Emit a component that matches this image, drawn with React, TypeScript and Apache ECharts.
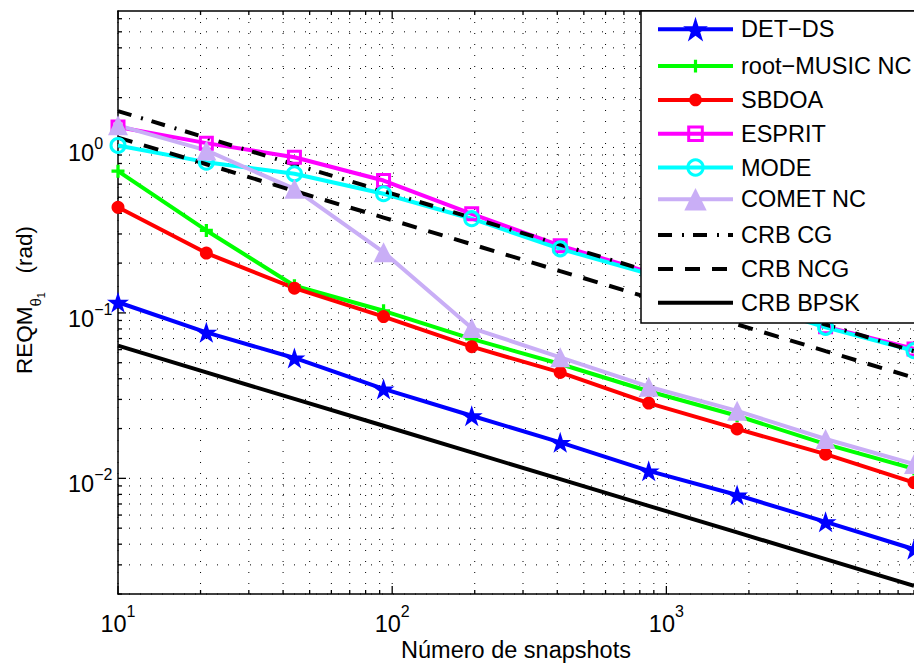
import { useEffect, useRef } from 'react';
import * as echarts from 'echarts';

// Number of snapshots (log-spaced from 10 to 8000)
const snapshots = [10, 21, 44, 93, 195, 410, 862, 1811, 3807, 8000];

// RMSE of theta_1 (rad) for each estimator
const detDs = [0.116, 0.0763, 0.0534, 0.0347, 0.0239, 0.0165, 0.0111, 0.00793, 0.00546, 0.00373];
const rootMusicNc = [0.719, 0.315, 0.146, 0.103, 0.0696, 0.0491, 0.0336, 0.0239, 0.0161, 0.0114];
const sbdoa = [0.435, 0.23, 0.141, 0.095, 0.0625, 0.0437, 0.0285, 0.0199, 0.014, 0.00944];
const esprit = [1.33, 1.062, 0.873, 0.631, 0.397, 0.255, 0.176, 0.1216, 0.0826, 0.0606];
const mode = [1.028, 0.815, 0.693, 0.525, 0.371, 0.244, 0.172, 0.119, 0.0818, 0.0591];
const cometNc = [1.36, 0.96, 0.562, 0.233, 0.081, 0.0539, 0.0358, 0.0256, 0.0173, 0.0122];

// Cramér-Rao bounds
const crbCg = [1.66, 1.145, 0.789, 0.545, 0.376, 0.259, 0.1786, 0.1233, 0.0851, 0.0587];
const crbNcg = [1.148, 0.792, 0.546, 0.377, 0.26, 0.179, 0.1236, 0.0853, 0.0588, 0.0406];
const crbBpsk = [0.0634, 0.0437, 0.0302, 0.0208, 0.01435, 0.00989, 0.00682, 0.00471, 0.00325, 0.00224];

// Axis ranges and labelled decades
const X_MIN = 10;
const X_MAX = 8000;
const Y_MIN = 0.002;
const Y_MAX = 6.68;
const xExponents = [1, 2, 3];
const yExponents = [-2, -1, 0];
const gridMultipliers = [1, 2, 3, 4, 5, 6, 7, 8, 9];

const FONT = '"Liberation Sans", Arial, Helvetica, sans-serif';
const STAR =
  'path://M0,-100L22.45,-30.9L95.11,-30.9L36.33,11.8L58.78,80.9L0,38.2L-58.78,80.9L-36.33,11.8L-95.11,-30.9L-22.45,-30.9Z';
const PLUS = 'path://M-1.5,-6H1.5V-1.5H6V1.5H1.5V6H-1.5V1.5H-6V-1.5H-1.5Z';
const LAVENDER = '#C9AEF6';

const isDecade = (v: number) => {
  const l = Math.log10(v);
  return Math.abs(l - Math.round(l)) < 1e-9;
};

const expText = (e: number) => (e < 0 ? '\u2212' + -e : String(e));

// Decade grid positions (1..9 x 10^e) inside each axis range
const xGridValues: number[] = [];
for (let e = 1; e <= 3; e++) {
  for (const m of gridMultipliers) {
    const v = m * Math.pow(10, e);
    if (v >= X_MIN && v <= X_MAX * 1.0000001) xGridValues.push(v);
  }
}
const yGridValues: number[] = [];
for (let e = -3; e <= 0; e++) {
  for (const m of gridMultipliers) {
    const v = m * Math.pow(10, e);
    if (v >= Y_MIN * 0.9999999 && v <= Y_MAX) yGridValues.push(v);
  }
}

const dotted = { stroke: '#000', lineWidth: 1, lineDash: [1, 10] };
const tickStyle = { stroke: '#000', lineWidth: 1.3 };

const verticalGrid = {
  type: 'custom',
  name: 'xgrid',
  silent: true,
  z: 1,
  data: xGridValues.map((v) => [v, 1]),
  encode: { x: 0, y: 1 },
  renderItem: (params: any, api: any) => {
    const v = api.value(0);
    const px = api.coord([v, 1])[0];
    const cs = params.coordSys;
    const len = isDecade(v) ? 8 : 4;
    const top = cs.y;
    const bottom = cs.y + cs.height;
    return {
      type: 'group',
      children: [
        { type: 'line', shape: { x1: px, y1: top, x2: px, y2: bottom }, style: dotted },
        { type: 'line', shape: { x1: px, y1: bottom, x2: px, y2: bottom - len }, style: tickStyle },
        { type: 'line', shape: { x1: px, y1: top, x2: px, y2: top + len }, style: tickStyle },
      ],
    };
  },
};

const horizontalGrid = {
  type: 'custom',
  name: 'ygrid',
  silent: true,
  z: 1,
  data: yGridValues.map((v) => [100, v]),
  encode: { x: 0, y: 1 },
  renderItem: (params: any, api: any) => {
    const v = api.value(1);
    const py = api.coord([100, v])[1];
    const cs = params.coordSys;
    const len = isDecade(v) ? 8 : 4;
    const left = cs.x;
    const right = cs.x + cs.width;
    return {
      type: 'group',
      children: [
        { type: 'line', shape: { x1: left, y1: py, x2: right, y2: py }, style: dotted },
        { type: 'line', shape: { x1: left, y1: py, x2: left + len, y2: py }, style: tickStyle },
      ],
    };
  },
};

const lineSeries = (
  name: string,
  values: number[],
  color: string,
  symbol: string,
  symbolSize: number | number[],
  opts: { hollow?: boolean; dash?: number[] } = {}
) => ({
  name,
  type: 'line',
  data: snapshots.map((x, i) => [x, values[i]]),
  symbol,
  symbolSize,
  showSymbol: symbol !== 'none',
  clip: true,
  z: 2,
  lineStyle: { color, width: 4, type: opts.dash ? opts.dash : 'solid', cap: 'butt' },
  itemStyle: opts.hollow
    ? { color: 'rgba(255,255,255,0)', borderColor: color, borderWidth: 3 }
    : { color, borderWidth: 0 },
  emphasis: { disabled: true },
});

const series = [
  verticalGrid,
  horizontalGrid,
  lineSeries('DET\u2212DS', detDs, '#0000FF', STAR, [22, 21]),
  lineSeries('root\u2212MUSIC NC', rootMusicNc, '#00FF00', PLUS, 13),
  lineSeries('SBDOA', sbdoa, '#FF0000', 'circle', 13),
  lineSeries('ESPRIT', esprit, '#FF00FF', 'rect', 12, { hollow: true }),
  lineSeries('MODE', mode, '#00FFFF', 'circle', 14, { hollow: true }),
  lineSeries('COMET NC', cometNc, LAVENDER, 'triangle', 20),
  lineSeries('CRB CG', crbCg, '#000000', 'none', 0, { dash: [14, 10, 2, 9] }),
  lineSeries('CRB NCG', crbNcg, '#000000', 'none', 0, { dash: [15, 12] }),
  lineSeries('CRB BPSK', crbBpsk, '#000000', 'none', 0),
];

// Legend rows: one legend component per row so each marker keeps its own size
const legendRows = [
  { name: 'DET\u2212DS', itemHeight: 31 },
  { name: 'root\u2212MUSIC NC', itemHeight: 16 },
  { name: 'SBDOA', itemHeight: 16 },
  { name: 'ESPRIT', itemHeight: 17, border: 3 },
  { name: 'MODE', itemHeight: 19, border: 3 },
  { name: 'COMET NC', itemHeight: 28 },
  { name: 'CRB CG', itemHeight: 20, noMarker: true },
  { name: 'CRB NCG', itemHeight: 20, noMarker: true },
  { name: 'CRB BPSK', itemHeight: 20, noMarker: true },
];
const LEGEND_FIRST_ROW = 32.3;
const LEGEND_ROW_STEP = 33.8;
const LEGEND_TEXT_HEIGHT = 24;

const legends = legendRows.map((row, i) => ({
  data: [row.name],
  left: 656,
  top: LEGEND_FIRST_ROW + i * LEGEND_ROW_STEP - Math.max(row.itemHeight, LEGEND_TEXT_HEIGHT) / 2,
  orient: 'vertical',
  padding: 0,
  itemWidth: 75,
  itemHeight: row.itemHeight,
  selectedMode: false,
  z: 10,
  lineStyle: { width: 4 },
  itemStyle: row.noMarker
    ? { opacity: 0 }
    : row.border
    ? { borderWidth: row.border }
    : {},
  textStyle: {
    fontFamily: FONT,
    fontSize: 23.5,
    lineHeight: LEGEND_TEXT_HEIGHT,
    color: '#000',
    padding: [0, 0, 0, 3],
  },
}));

const tickLabelRich = (bPad: number[]) => ({
  b: {
    fontFamily: FONT,
    fontSize: 23.5,
    lineHeight: 23.5,
    color: '#000',
    padding: bPad,
    verticalAlign: 'top',
  },
  s: {
    fontFamily: FONT,
    fontSize: 16,
    lineHeight: 16,
    color: '#000',
    verticalAlign: 'top',
  },
});

const decadeLabel = (allowed: number[]) => (v: number) => {
  if (!isDecade(v)) return '';
  const e = Math.round(Math.log10(v));
  if (!allowed.includes(e)) return '';
  return `{b|10}{s|${expText(e)}}`;
};

const axisLineStyle = { show: true, lineStyle: { color: '#000', width: 1.5 } };

const option = {
  animation: false,
  backgroundColor: '#FFFFFF',
  textStyle: { fontFamily: FONT },
  grid: {
    left: 118,
    top: 11,
    right: 0,
    bottom: 71,
    containLabel: false,
    outerBoundsMode: 'none',
  },
  xAxis: [
    {
      type: 'log',
      logBase: 10,
      min: X_MIN,
      max: X_MAX,
      position: 'bottom',
      axisLine: axisLineStyle,
      axisTick: { show: false },
      splitLine: { show: false },
      minorTick: { show: false },
      minorSplitLine: { show: false },
      axisLabel: {
        show: true,
        margin: 9,
        align: 'center',
        formatter: decadeLabel(xExponents),
        rich: tickLabelRich([9, 0, 0, 0]),
        showMinLabel: true,
        showMaxLabel: true,
        hideOverlap: false,
      },
      name: 'Número de snapshots',
      nameLocation: 'middle',
      nameGap: 43.5,
      nameMoveOverlap: false,
      nameTextStyle: { fontFamily: FONT, fontSize: 23.5, color: '#000', verticalAlign: 'top' },
    },
    {
      type: 'log',
      logBase: 10,
      min: X_MIN,
      max: X_MAX,
      position: 'top',
      axisLine: axisLineStyle,
      axisTick: { show: false },
      axisLabel: { show: false },
      splitLine: { show: false },
    },
  ],
  yAxis: [
    {
      type: 'log',
      logBase: 10,
      min: Y_MIN,
      max: Y_MAX,
      position: 'left',
      axisLine: axisLineStyle,
      axisTick: { show: false },
      splitLine: { show: false },
      minorTick: { show: false },
      minorSplitLine: { show: false },
      axisLabel: {
        show: true,
        margin: 50,
        align: 'left',
        formatter: decadeLabel(yExponents),
        rich: tickLabelRich([5.5, 0, 4.5, 0]),
        showMinLabel: true,
        showMaxLabel: true,
        hideOverlap: false,
      },
    },
  ],
  legend: legends,
  graphic: {
    elements: [
      {
        type: 'rect',
        z: 5,
        silent: true,
        shape: { x: 641, y: 11, width: 320, height: 312 },
        style: { fill: '#FFFFFF', stroke: '#000000', lineWidth: 1.5 },
      },
      {
        type: 'text',
        z: 5,
        silent: true,
        x: 24,
        y: 300,
        rotation: Math.PI / 2,
        style: {
          text: '{m|REQM}{t|\u03b8}{o|1}{m|   (rad)}',
          align: 'center',
          verticalAlign: 'middle',
          rich: {
            m: { fontFamily: FONT, fontSize: 22.5, lineHeight: 22, color: '#000', verticalAlign: 'top' },
            t: {
              fontFamily: FONT,
              fontSize: 15,
              lineHeight: 15,
              color: '#000',
              verticalAlign: 'top',
              padding: [14.5, 0, 0, 0],
            },
            o: {
              fontFamily: FONT,
              fontSize: 11,
              lineHeight: 11,
              color: '#000',
              verticalAlign: 'top',
              padding: [22, 0, 0, 0],
            },
          },
        },
      },
    ],
  },
  series,
};

export default function App() {
  const ref = useRef<HTMLDivElement>(null);

  useEffect(() => {
    if (!ref.current) return;
    const chart = echarts.init(ref.current, null, { renderer: 'svg' });
    chart.setOption(option as any);
    return () => {
      chart.dispose();
    };
  }, []);

  return (
    <div
      ref={ref}
      style={{ position: 'absolute', left: 0, top: 0, width: 914, height: 665, background: '#fff' }}
    />
  );
}
